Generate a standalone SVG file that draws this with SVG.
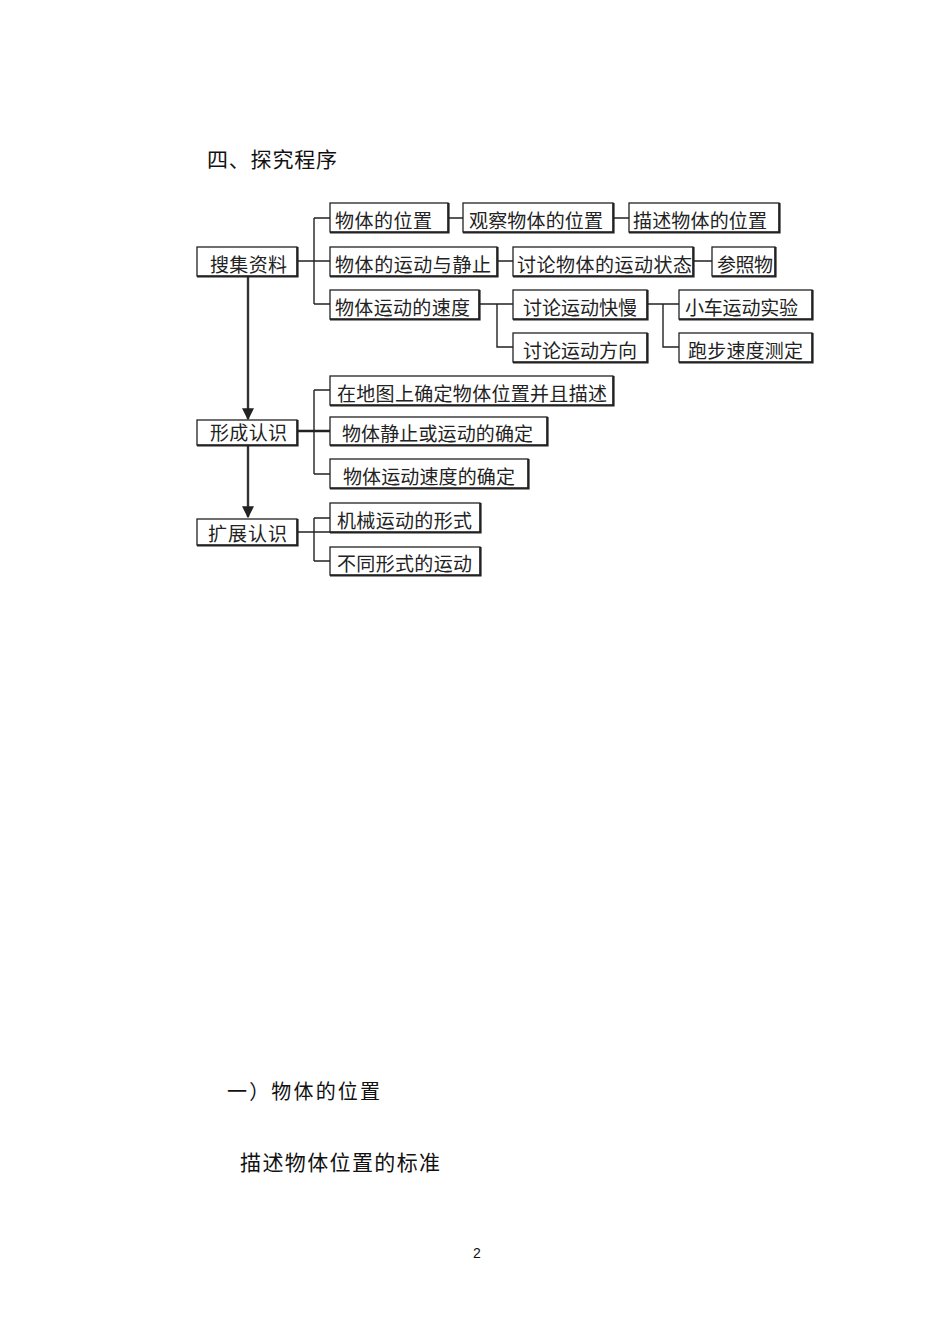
<svg xmlns="http://www.w3.org/2000/svg" width="950" height="1342" viewBox="0 0 950 1342">
<style>
.box{fill:#fff;stroke:#222;stroke-width:1.3}
.sh{fill:none;stroke:#222;stroke-width:2.2}
.t{font-family:"Liberation Serif","Noto Sans CJK SC",serif;font-size:19px;fill:#222}
.h{font-family:"Liberation Sans","Noto Sans CJK SC",sans-serif;fill:#111}
.c{fill:none;stroke:#222;stroke-width:1.4}
.a{fill:none;stroke:#333;stroke-width:2.4}
</style>
<defs>
<marker id="arr" viewBox="0 0 10 10" refX="9" refY="5" markerWidth="5" markerHeight="5" markerUnits="strokeWidth" orient="auto">
<path d="M0,0 L10,5 L0,10 z" fill="#222"/>
</marker>
</defs>
<rect width="950" height="1342" fill="#fff"/>
<text class="h" x="207" y="167" font-size="21" textLength="130">四、探究程序</text>
<g id="connectors">
<path class="c" d="M297,261 H330 M314,218 V304 M314,218 H330 M314,304 H330"/>
<path class="c" d="M448,218 H463 M613,218 H629"/>
<path class="c" d="M497,261 H513 M693,261 H712"/>
<path class="c" d="M479,304 H513 M497,304 V347 H513"/>
<path class="c" d="M647,304 H679 M663,304 V347 H679"/>
<path class="c" d="M314,390 V474 M314,390 H330 M314,474 H330"/>
<path class="c" style="stroke-width:2.6" d="M297,431 H330"/>
<path class="c" d="M297,532 H330 M314,518 V561 M314,518 H330 M314,561 H330"/>
<path class="a" d="M248,276 V419" marker-end="url(#arr)"/>
<path class="a" d="M248,445 V517" marker-end="url(#arr)"/>
</g>
<g id="n1"><rect class="box" x="197" y="247" width="100" height="29"/><path class="sh" d="M197,276.5 H297.5 V247"/><text class="t" x="210" y="272" textLength="77">搜集资料</text></g>
<g id="n2"><rect class="box" x="330" y="203" width="118" height="29"/><path class="sh" d="M330,232.5 H448.5 V203"/><text class="t" x="335" y="228" textLength="97">物体的位置</text></g>
<g id="n3"><rect class="box" x="463" y="203" width="150" height="29"/><path class="sh" d="M463,232.5 H613.5 V203"/><text class="t" x="469" y="228" textLength="134">观察物体的位置</text></g>
<g id="n4"><rect class="box" x="629" y="203" width="150" height="29"/><path class="sh" d="M629,232.5 H779.5 V203"/><text class="t" x="633" y="228" textLength="134">描述物体的位置</text></g>
<g id="n5"><rect class="box" x="330" y="247" width="167" height="29"/><path class="sh" d="M330,276.5 H497.5 V247"/><text class="t" x="335" y="272" textLength="156">物体的运动与静止</text></g>
<g id="n6"><rect class="box" x="513" y="247" width="180" height="29"/><path class="sh" d="M513,276.5 H693.5 V247"/><text class="t" x="517" y="272" textLength="175">讨论物体的运动状态</text></g>
<g id="n7"><rect class="box" x="712" y="247" width="63" height="29"/><path class="sh" d="M712,276.5 H775.5 V247"/><text class="t" x="717" y="272" textLength="56">参照物</text></g>
<g id="n8"><rect class="box" x="330" y="290" width="149" height="29"/><path class="sh" d="M330,319.5 H479.5 V290"/><text class="t" x="335" y="315" textLength="135">物体运动的速度</text></g>
<g id="n9"><rect class="box" x="513" y="290" width="134" height="29"/><path class="sh" d="M513,319.5 H647.5 V290"/><text class="t" x="523" y="315" textLength="114">讨论运动快慢</text></g>
<g id="n10"><rect class="box" x="513" y="333" width="134" height="29"/><path class="sh" d="M513,362.5 H647.5 V333"/><text class="t" x="523" y="358" textLength="114">讨论运动方向</text></g>
<g id="n11"><rect class="box" x="679" y="290" width="133" height="29"/><path class="sh" d="M679,319.5 H812.5 V290"/><text class="t" x="685" y="315" textLength="113">小车运动实验</text></g>
<g id="n12"><rect class="box" x="679" y="333" width="133" height="29"/><path class="sh" d="M679,362.5 H812.5 V333"/><text class="t" x="688" y="358" textLength="115">跑步速度测定</text></g>
<g id="n13"><rect class="box" x="197" y="420" width="100" height="25"/><path class="sh" d="M197,445.5 H297.5 V420"/><text class="t" x="210" y="440" textLength="77">形成认识</text></g>
<g id="n14"><rect class="box" x="330" y="376" width="283" height="29"/><path class="sh" d="M330,405.5 H613.5 V376"/><text class="t" x="337" y="401" textLength="270">在地图上确定物体位置并且描述</text></g>
<g id="n15"><rect class="box" x="330" y="417" width="217" height="28"/><path class="sh" d="M330,445.5 H547.5 V417"/><text class="t" x="342" y="441" textLength="191">物体静止或运动的确定</text></g>
<g id="n16"><rect class="box" x="330" y="459" width="198" height="29"/><path class="sh" d="M330,488.5 H528.5 V459"/><text class="t" x="343" y="484" textLength="172">物体运动速度的确定</text></g>
<g id="n17"><rect class="box" x="197" y="519" width="100" height="26"/><path class="sh" d="M197,545.5 H297.5 V519"/><text class="t" x="208" y="541" textLength="79">扩展认识</text></g>
<g id="n18"><rect class="box" x="330" y="503" width="150" height="29"/><path class="sh" d="M330,532.5 H480.5 V503"/><text class="t" x="337" y="528" textLength="135">机械运动的形式</text></g>
<g id="n19"><rect class="box" x="330" y="547" width="150" height="28"/><path class="sh" d="M330,575.5 H480.5 V547"/><text class="t" x="337" y="571" textLength="135">不同形式的运动</text></g>
<text class="h" x="227" y="1099" font-size="20" textLength="153">一）物体的位置</text>
<text class="h" x="240" y="1170" font-size="21" textLength="200">描述物体位置的标准</text>
<text class="h" x="477" y="1258" font-size="14" text-anchor="middle">2</text>
</svg>
